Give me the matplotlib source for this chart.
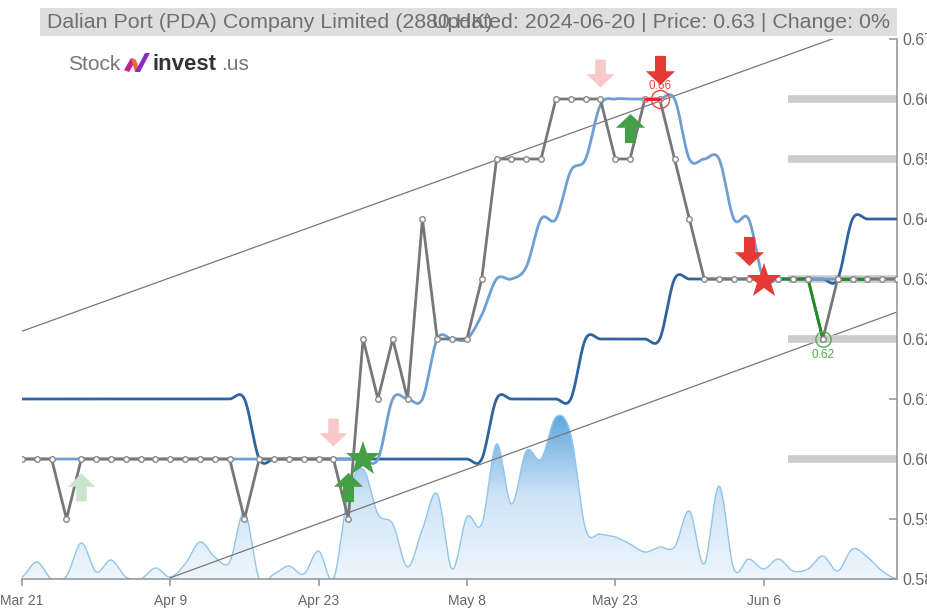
import numpy as np
import matplotlib
matplotlib.use("Agg")
import matplotlib.pyplot as plt
from matplotlib.path import Path
from matplotlib.patches import Rectangle, Polygon
from matplotlib.colors import LinearSegmentedColormap

plt.rcParams['font.family'] = ['Liberation Sans', 'DejaVu Sans']

# ---------------- data ----------------
tick_idx = [0, 10, 20, 30, 40, 50]
tick_labels = ["Mar 21", "Apr 9", "Apr 23", "May 8", "May 23", "Jun 6"]

close = [0.60, 0.60, 0.60, 0.59, 0.60,
         0.60, 0.60, 0.60, 0.60, 0.60, 0.60, 0.60, 0.60, 0.60, 0.60,
         0.59,
         0.60, 0.60, 0.60, 0.60, 0.60, 0.60,
         0.59,
         0.62, 0.61, 0.62, 0.61, 0.64, 0.62, 0.62, 0.62, 0.63,
         0.65, 0.65, 0.65, 0.65,
         0.66, 0.66, 0.66, 0.66,
         0.65, 0.65,
         0.66, 0.66,
         0.65, 0.64,
         0.63, 0.63, 0.63, 0.63, 0.63, 0.63, 0.63, 0.63,
         0.62,
         0.63, 0.63, 0.63, 0.63, 0.63]

ma_fast = [0.600] * 23 + [0.600, 0.600, 0.610, 0.610, 0.610, 0.620, 0.620, 0.620,
                          0.624, 0.630, 0.630, 0.632, 0.640, 0.640, 0.648, 0.650,
                          0.659, 0.660, 0.660, 0.660, 0.660, 0.660, 0.650, 0.650,
                          0.650, 0.640, 0.640, 0.630] + [0.630] * 9

ma_slow = [0.61] * 16 + [0.60] * 16 + [0.61] * 6 + [0.62] * 6 + [0.63] * 12 + [0.64] * 4

volume = [2, 17, 0, 3, 36, 7, 19, 2, 0, 11, 2, 15, 37, 22, 17, 67, 0, 5, 13, 5,
          28, 0, 85, 110, 65, 55, 12, 50, 85, 10, 62, 55, 135, 75, 128, 120, 162, 145, 50, 45,
          42, 35, 27, 32, 32, 68, 15, 93, 10, 20, 10, 20, 8, 10, 23, 8, 30, 22, 8, 0]

trend_upper_x = [0, 59]
trend_upper_y = [0.6213, 0.6739]
trend_lower_x = [10, 59]
trend_lower_y = [0.5802, 0.6245]

sr_levels = [0.66, 0.65, 0.63, 0.62, 0.60]

# signals (index, price)
faded_up = [(4, 0.5954)]
faded_down = [(21, 0.6045), (39, 0.6643)]
buy_up = [(22, 0.5954), (41, 0.6552)]
buy_star = [(23, 0.6000)]
sell_down = [(43, 0.6648), (49, 0.6347)]
sell_star = [(50, 0.6297)]
red_circle = (43, 0.66)
green_circle = (54, 0.62)

title_left = "Dalian Port (PDA) Company Limited (2880.HK)"
title_right = "Updated: 2024-06-20 | Price: 0.63 | Change: 0%"

# ---------------- helpers ----------------
def spline(ys, n=20):
    ys = np.asarray(ys, float)
    N = len(ys)
    xs_out, ys_out = [], []
    for i in range(N - 1):
        p0 = ys[i - 1] if i > 0 else ys[i]
        p1, p2 = ys[i], ys[i + 1]
        p3 = ys[i + 2] if i + 2 < N else ys[i + 1]
        m1 = (p2 - p0) / 2.0
        m2 = (p3 - p1) / 2.0
        t = np.linspace(0, 1, n, endpoint=False)
        h00 = 2 * t**3 - 3 * t**2 + 1
        h10 = t**3 - 2 * t**2 + t
        h01 = -2 * t**3 + 3 * t**2
        h11 = t**3 - t**2
        xs_out.append(i + t)
        ys_out.append(h00 * p1 + h10 * m1 + h01 * p2 + h11 * m2)
    xs_out.append(np.array([N - 1.0]))
    ys_out.append(np.array([ys[-1]]))
    return np.concatenate(xs_out), np.concatenate(ys_out)

W, H = 928, 608
fig = plt.figure(figsize=(W / 100, H / 100), dpi=100)
L, R, T, B = 22, 897, 39, 579
pos = [L / W, 1 - B / H, (R - L) / W, (B - T) / H]

# volume axes (behind)
axv = fig.add_axes(pos)
axv.set_xlim(0, 59)
vtop = max(volume) * (B - T) / 162.0
axv.set_ylim(0, vtop)
axv.axis('off')
vx, vy = spline(volume)
verts = [(vx[0], 0)] + list(zip(vx, vy)) + [(vx[-1], 0)]
poly = Polygon(verts, closed=True, facecolor='none', edgecolor='none')
axv.add_patch(poly)
cmap = LinearSegmentedColormap.from_list('v', ['#eef6fd', '#cfe4f6', '#5ea7df'])
grad = np.linspace(0, 1, 256).reshape(-1, 1)
im = axv.imshow(grad, extent=[0, 59, 0, 165], aspect='auto', origin='lower', cmap=cmap, zorder=1)
im.set_clip_path(poly)
axv.plot(vx, vy, color='#92c5ea', lw=1.0, zorder=2)

# main axes
ax = fig.add_axes(pos)
ax.patch.set_alpha(0)
ax.set_xlim(0, 59)
ax.set_ylim(0.58, 0.67)

# trend lines
ax.plot(trend_upper_x, trend_upper_y, color='#777777', lw=0.9, zorder=2)
ax.plot(trend_lower_x, trend_lower_y, color='#777777', lw=0.9, zorder=2)

# support / resistance bars
for lv in sr_levels:
    ax.plot([51.65, 59], [lv, lv], color='#cccccc', lw=5.5, solid_capstyle='butt', zorder=2)

# moving averages
sx, sy = spline(ma_slow)
ax.plot(sx, sy, color='#2f64a0', lw=2.0, zorder=3)
fx, fy = spline(ma_fast)
ax.plot(fx, fy, color='#6e9fd2', lw=2.0, zorder=4)

# price line
xi = np.arange(len(close))
ax.plot(xi, close, color='#777777', lw=2.0, zorder=5,
        marker='o', markersize=4, markerfacecolor='white', markeredgecolor='#888888',
        markeredgewidth=1.0)
# coloured segments
ax.plot(xi[42:44], close[42:44], color='#ff1a1a', lw=2.0, zorder=6)
ax.plot(xi[51:55], close[51:55], color='#228B22', lw=2.0, zorder=6)
ax.plot(xi[55:58], close[55:58], color='#228B22', lw=2.0, zorder=5.5, dashes=(4, 3))
ax.plot(xi[51:58], close[51:58], color='none', lw=0, zorder=7,
        marker='o', markersize=4, markerfacecolor='white', markeredgecolor='#888888',
        markeredgewidth=1.0)

# markers
up = Path([(-0.38, -1), (0.38, -1), (0.38, 0.05), (1, 0.05), (0, 1), (-1, 0.05), (-0.38, 0.05), (-0.38, -1)],
          [Path.MOVETO] + [Path.LINETO] * 6 + [Path.CLOSEPOLY])
down = Path([(x, -y) for x, y in up.vertices], up.codes)

def mk(pts, m, color, size):
    ax.plot([p[0] for p in pts], [p[1] for p in pts], ls='none', marker=m, markersize=size,
            markerfacecolor=color, markeredgecolor=color, markeredgewidth=0, zorder=8, clip_on=False)

mk(faded_up, up, '#c8e6c9', 20)
mk(faded_down, down, '#f8c8c8', 20)
mk(buy_up, up, '#43a047', 21)
mk(buy_star, '*', '#43a047', 26)
mk(sell_down, down, '#e53935', 21)
mk(sell_star, '*', '#e53935', 26)

ax.plot([red_circle[0]], [red_circle[1]], marker='o', markersize=13, markerfacecolor='none',
        markeredgecolor='#f04545', markeredgewidth=1.0, zorder=9)
ax.annotate("0.66", red_circle, xytext=(0, 5), textcoords='offset points', ha='center',
            va='bottom', color='#f04545', fontsize=8.5, zorder=7)
ax.plot([green_circle[0]], [green_circle[1]], marker='o', markersize=11, markerfacecolor='none',
        markeredgecolor='#4caf50', markeredgewidth=1.0, zorder=9)
ax.annotate("0.62", green_circle, xytext=(0, -7), textcoords='offset points', ha='center',
            va='top', color='#4caf50', fontsize=8.5, zorder=9)

# axes styling
for s in ['top', 'left']:
    ax.spines[s].set_visible(False)
for s in ['right', 'bottom']:
    ax.spines[s].set_color('#999999')
    ax.spines[s].set_linewidth(1.2)
ax.yaxis.tick_right()
yt = np.round(np.arange(0.58, 0.6701, 0.01), 2)
ax.set_yticks(yt)
ax.set_yticklabels([f"{v:.2f}" for v in yt])
ax.tick_params(axis='y', direction='in', length=6, width=1.2, color='#999999',
               labelcolor='#666666', labelsize=11.5, pad=4)
ax.set_xticks(tick_idx)
ax.set_xticklabels(tick_labels)
ax.tick_params(axis='x', direction='out', length=5, width=1.2, color='#999999',
               labelcolor='#666666', labelsize=10, pad=6)

# title band
fig.patches.append(Rectangle((40 / W, 1 - 36 / H), (897 - 40) / W, 28 / H,
                             transform=fig.transFigure, facecolor='#dedede', edgecolor='none', zorder=0))
fig.text(47 / W, 1 - 22 / H, title_left, ha='left', va='center', fontsize=15.4, color='#6f6f6f')
fig.text(890 / W, 1 - 22 / H, title_right, ha='right', va='center', fontsize=15.4, color='#6f6f6f')

# logo
fig.text(68 / W, 1 - 65 / H, "Stock", ha='left', va='center', fontsize=15, color='#777777')
fig.patches.append(Polygon([(124 / W, 1 - 70 / H), (131 / W, 1 - 58 / H), (136 / W, 1 - 60 / H), (129 / W, 1 - 72 / H)],
                           closed=True, transform=fig.transFigure, facecolor='#c2248f', edgecolor='none'))
fig.patches.append(Polygon([(131 / W, 1 - 58 / H), (136 / W, 1 - 60 / H), (140 / W, 1 - 72 / H), (135 / W, 1 - 72 / H)],
                           closed=True, transform=fig.transFigure, facecolor='#f0653a', edgecolor='none'))
fig.patches.append(Polygon([(135 / W, 1 - 72 / H), (140 / W, 1 - 72 / H), (150 / W, 1 - 53 / H), (145 / W, 1 - 53 / H)],
                           closed=True, transform=fig.transFigure, facecolor='#8a2bc2', edgecolor='none'))
fig.text(153 / W, 1 - 65 / H, "invest", ha='left', va='center', fontsize=16, color='#333333',
         fontweight='bold')
fig.text(221 / W, 1 - 65 / H, ".us", ha='left', va='center', fontsize=15, color='#777777')

fig.savefig("out.png", dpi=100)
